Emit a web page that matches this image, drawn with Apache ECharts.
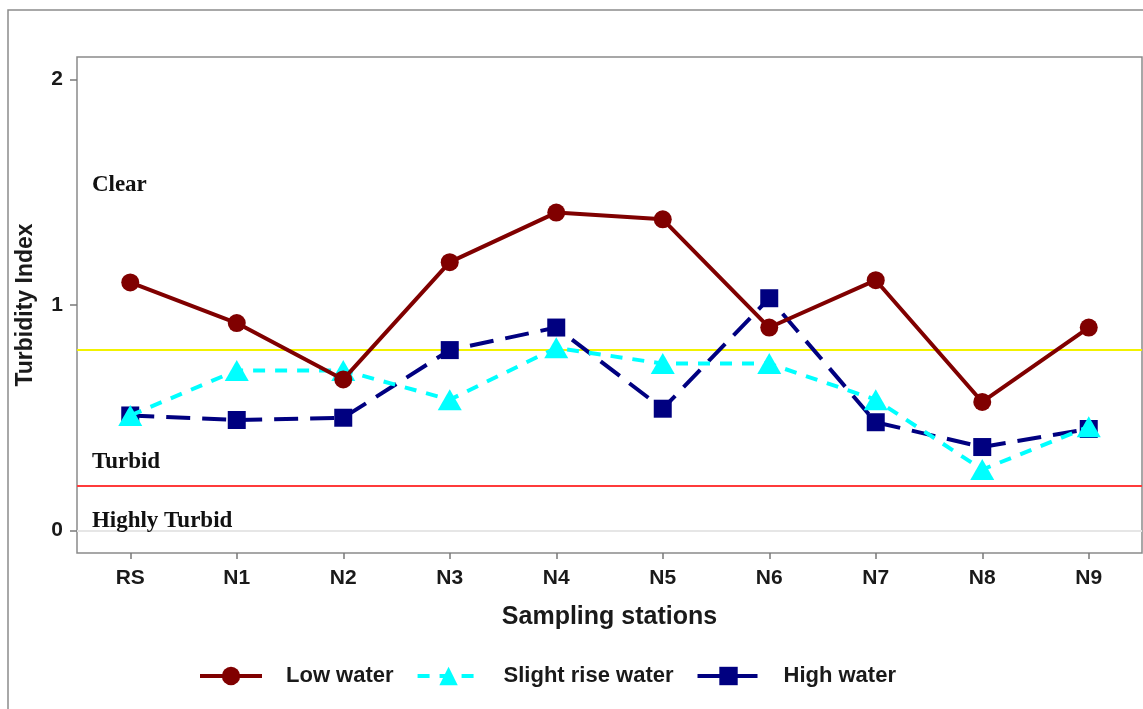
<!DOCTYPE html>
<html>
<head>
<meta charset="utf-8">
<script src="https://cdn.jsdelivr.net/npm/echarts@6.0.0/dist/echarts.min.js"></script>
<style>
html,body{margin:0;padding:0;background:#fff;}
#chart{width:1143px;height:709px;}
</style>
</head>
<body>
<div id="chart"></div>
<script>
// ---- data ----
const categories = ['RS','N1','N2','N3','N4','N5','N6','N7','N8','N9'];
const lowWater   = [1.10, 0.92, 0.67, 1.19, 1.41, 1.38, 0.90, 1.11, 0.57, 0.90];
const slightRise = [0.51, 0.71, 0.71, 0.58, 0.81, 0.74, 0.74, 0.58, 0.27, 0.46];
const highWater  = [0.51, 0.49, 0.50, 0.80, 0.90, 0.54, 1.03, 0.48, 0.37, 0.45];
const yTicks = [0, 1, 2];
const thresholds = [0.8, 0.2, 0];
const zoneLabels = ['Clear', 'Turbid', 'Highly Turbid'];
const zoneLabelY = [1.53, 0.305, 0.04];
const zoneLabelX = -0.36;
const seriesNames = ['Low water', 'Slight rise water', 'High water'];

const chart = echarts.init(document.getElementById('chart'), null, {renderer: 'canvas'});
const sans = "'Liberation Sans', Arial, sans-serif";
const serif = "'Liberation Serif', 'Times New Roman', serif";

const option = {
  animation: false,
  backgroundColor: '#ffffff',
  graphic: [{
    type: 'rect', silent: true, z: -10,
    shape: {x: 8, y: 10, width: 1200, height: 800},
    style: {fill: 'none', stroke: '#8c8c8c', lineWidth: 1.5}
  }],
  grid: {left: 77, right: 1, top: 57, bottom: 156, show: true, borderColor: '#8a8a8a', borderWidth: 1.5, backgroundColor: 'transparent'},
  legend: {
    data: seriesNames,
    bottom: 22, left: 198, padding: 0,
    itemWidth: 62, itemHeight: 23, itemGap: 22,
    lineStyle: {width: 4},
    textStyle: {fontFamily: sans, fontSize: 22, fontWeight: 'bold', color: '#1a1a1a', padding: [0, 0, 0, 19]}
  },
  xAxis: [{
    type: 'category', data: categories, boundaryGap: true,
    axisLine: {show: false, onZero: false},
    axisTick: {show: true, alignWithLabel: true, length: 6, lineStyle: {color: '#7a7a7a', width: 1.5}},
    axisLabel: {fontFamily: sans, fontSize: 21, fontWeight: 'bold', color: '#1a1a1a', margin: 15},
    name: 'Sampling stations', nameLocation: 'middle', nameGap: 52,
    nameTextStyle: {fontFamily: sans, fontSize: 25, fontWeight: 'bold', color: '#1a1a1a'},
    splitLine: {show: false}
  }, {
    type: 'value', min: -0.5, max: 9.5, show: false, position: 'bottom',
    axisLine: {onZero: false}
  }],
  yAxis: {
    type: 'value', min: -0.1, max: 2.1,
    axisLine: {show: false, onZero: false},
    splitLine: {show: false},
    axisTick: {show: true, length: 7, customValues: yTicks, lineStyle: {color: '#7a7a7a', width: 1.5}},
    axisLabel: {customValues: yTicks, fontFamily: sans, fontSize: 21, fontWeight: 'bold', color: '#1a1a1a', margin: 14},
    name: 'Turbidity Index', nameLocation: 'middle', nameGap: 40, nameRotate: 90,
    nameTextStyle: {fontFamily: sans, fontSize: 23, fontWeight: 'bold', color: '#1a1a1a'}
  },
  series: [
    {
      name: 'zones', type: 'scatter', xAxisIndex: 1, yAxisIndex: 0,
      symbolSize: 0, itemStyle: {color: '#000000', opacity: 1}, silent: true, z: 1,
      data: zoneLabels.map((t, i) => ({value: [zoneLabelX, zoneLabelY[i]], name: t})),
      label: {show: true, position: 'right', distance: 0, formatter: p => p.name,
        fontFamily: serif, fontSize: 23, fontWeight: 'bold', color: '#111111', opacity: 1, align: 'left', verticalAlign: 'middle'},
      markLine: {
        silent: true, symbol: ['none', 'none'], label: {show: false}, z: 0,
        data: [
          {yAxis: thresholds[0], lineStyle: {color: '#f2f200', width: 2, type: 'solid', opacity: 1}},
          {yAxis: thresholds[1], lineStyle: {color: '#ff3b3b', width: 2, type: 'solid', opacity: 1}},
          {yAxis: thresholds[2], lineStyle: {color: '#e6e6e6', width: 2, type: 'solid', opacity: 1}}
        ]
      }
    },
    {
      name: seriesNames[2], type: 'line', data: highWater, z: 3,
      symbol: 'rect', symbolSize: 18,
      itemStyle: {color: '#000080'},
      lineStyle: {color: '#000080', width: 4, type: [24, 12]}
    },
    {
      name: seriesNames[1], type: 'line', data: slightRise, z: 4,
      symbol: 'triangle', symbolSize: [24, 21],
      itemStyle: {color: '#00ffff'},
      lineStyle: {color: '#00ffff', width: 4, type: [12, 10]}
    },
    {
      name: seriesNames[0], type: 'line', data: lowWater, z: 5,
      symbol: 'circle', symbolSize: 18,
      itemStyle: {color: '#800000'},
      lineStyle: {color: '#800000', width: 4, type: 'solid'}
    }
  ]
};
chart.setOption(option);
</script>
</body>
</html>
